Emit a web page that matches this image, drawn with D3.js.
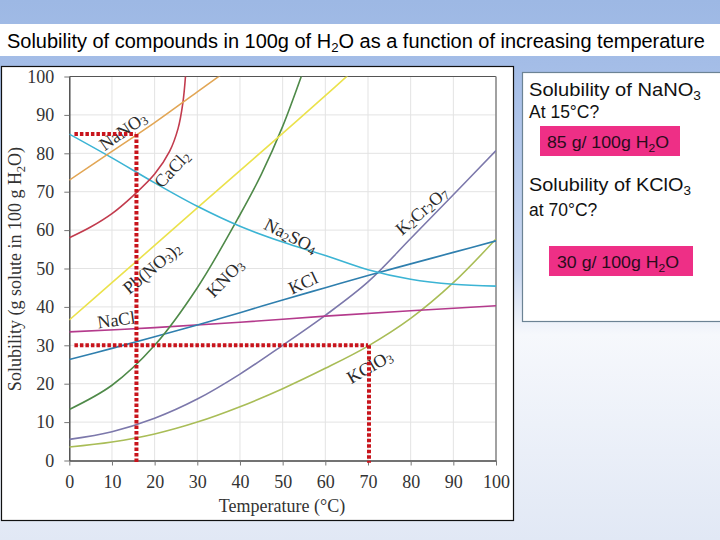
<!DOCTYPE html>
<html>
<head>
<meta charset="utf-8">
<script src="https://cdn.jsdelivr.net/npm/d3@7"></script>
<style>
  html, body { margin: 0; padding: 0; }
  body { width: 720px; height: 540px; overflow: hidden; }
</style>
</head>
<body>
<svg id="chart" width="720" height="540"></svg>
<script>
// ---------- data (temperature °C, solubility g / 100 g H2O) ----------
const NaNO3   = [[0,73],[10,80.5],[20,88],[30,96],[40,104]];
const CaCl2   = [[0,58],[5,60.8],[10,64.3],[15,69],[20,74.6],[23.5,80.5],[25.5,86.5],[26.6,93],[27.3,101]];
const Na2SO4  = [[0,85],[10,78.8],[20,72.3],[30,66.2],[40,61],[50,56.9],[60,53.4],[70,49.7],[80,47.2],[90,45.9],[100,45.4]];
const PbNO32  = [[0,36.6],[10,46.3],[20,56],[30,65.8],[40,75.5],[50,85.2],[60,95],[66,101]];
const KNO3    = [[0,13.3],[10,19.6],[20,30],[30,45],[40,64],[45,74.5],[50,87],[55,102]];
const KCl     = [[0,26.3],[10,29.2],[20,32.2],[30,35.3],[40,38.5],[50,41.8],[60,45],[70,48.2],[80,51.2],[90,54.2],[100,57.2]];
const NaCl    = [[0,33.5],[20,34.6],[40,36],[60,37.6],[80,39],[100,40.3]];
const K2Cr2O7 = [[0,5.5],[10,7.5],[20,11],[30,16],[40,22.5],[50,30],[60,37.8],[70,46.5],[80,57.8],[90,69.2],[100,80.7]];
const KClO3   = [[0,3.5],[10,4.8],[20,6.9],[30,10],[40,14],[50,18.7],[60,24],[70,29.8],[80,37],[90,46.3],[100,57.7]];

const xTicks = [0,10,20,30,40,50,60,70,80,90,100];
const yTicks = [0,10,20,30,40,50,60,70,80,90,100];

// curve labels: text parts ([text, isSubscript]), position in data units, rotation
const labelParts = {
  NaNO3:   [["NaNO",0],["3",1]],
  CaCl2:   [["CaCl",0],["2",1]],
  Na2SO4:  [["Na",0],["2",1],["SO",0],["4",1]],
  K2Cr2O7: [["K",0],["2",1],["Cr",0],["2",1],["O",0],["7",1]],
  PbNO32:  [["Pb(NO",0],["3",1],[")",0],["2",1]],
  KNO3:    [["KNO",0],["3",1]],
  KCl:     [["KCl",0]],
  NaCl:    [["NaCl",0]],
  KClO3:   [["KClO",0],["3",1]]
};
const labelT   = {NaNO3:12.6, CaCl2:24.1, Na2SO4:51.9, K2Cr2O7:82.6, PbNO32:19.4, KNO3:36.5, KCl:54.8, NaCl:11, KClO3:70.4};
const labelS   = {NaNO3:85.8, CaCl2:75.9, Na2SO4:58.5, K2Cr2O7:65,   PbNO32:50.1, KNO3:47.5, KCl:46.2, NaCl:36.6, KClO3:24.4};
const labelRot = {NaNO3:-35, CaCl2:-47, Na2SO4:27, K2Cr2O7:-41, PbNO32:-40, KNO3:-46, KCl:-25, NaCl:-8, KClO3:-30};

// questions
const questionT = [15.5, 70];
const questionS = [85, 30];

// ---------- styling ----------
const colors = {
  NaNO3:"#e2a655", CaCl2:"#c23c4e", Na2SO4:"#3cb4d4", PbNO32:"#ebe24c",
  KNO3:"#4f8a49", KCl:"#2f7fae", NaCl:"#b43a8c", K2Cr2O7:"#7c78ab", KClO3:"#a9bd57"
};
const seriesData = {NaNO3, CaCl2, Na2SO4, PbNO32, KNO3, KCl, NaCl, K2Cr2O7, KClO3};
const order = ["KClO3","K2Cr2O7","NaCl","KCl","KNO3","PbNO32","Na2SO4","CaCl2","NaNO3"];

const svg = d3.select("#chart");
const defs = svg.append("defs");

// slide background
const bg = defs.append("linearGradient").attr("id","bg").attr("x1",0).attr("y1",0).attr("x2",0).attr("y2",1);
[[0,"#9db8e4"],[0.12,"#a4bde7"],[0.5,"#cbd9f1"],[0.62,"#f6f8fc"],[1,"#e1e8f5"]].forEach(s =>
  bg.append("stop").attr("offset",s[0]).attr("stop-color",s[1]));
svg.append("rect").attr("width",720).attr("height",540).attr("fill","url(#bg)");

// title band
svg.append("rect").attr("x",0).attr("y",24).attr("width",720).attr("height",32).attr("fill","#ffffff");
const title = svg.append("text").attr("x",7).attr("y",48)
  .attr("font-family","'Liberation Sans', Arial, sans-serif").attr("font-size",18).attr("fill","#000");
title.append("tspan").text("Solubility of compounds in 100g of H");
title.append("tspan").text("2").attr("font-size",12).attr("dy",4);
title.append("tspan").text("O as a function of increasing temperature").attr("dy",-4);
(function(){ const w = title.node().getComputedTextLength(); const fs = 18*698/w;
  title.attr("font-size",fs); title.selectAll("tspan").filter((d,i)=>i===1).attr("font-size",fs*0.66); })();

// chart panel
svg.append("rect").attr("x",1.5).attr("y",66.5).attr("width",512).attr("height",454)
  .attr("fill","#fff").attr("stroke","#111").attr("stroke-width",1.2);

const x = d3.scaleLinear().domain([0,100]).range([69.3,496]);
const y = d3.scaleLinear().domain([0,100]).range([460.5,76.5]);

// grid
const g = svg.append("g");
g.selectAll("line.vg").data(xTicks.slice(1,-1)).join("line").attr("class","vg")
  .attr("x1",d=>x(d)).attr("x2",d=>x(d)).attr("y1",y(0)).attr("y2",y(100))
  .attr("stroke","#e3e3e3").attr("stroke-width",1);
g.selectAll("line.hg").data(yTicks.slice(1,-1)).join("line").attr("class","hg")
  .attr("x1",x(0)).attr("x2",x(100)).attr("y1",d=>y(d)).attr("y2",d=>y(d))
  .attr("stroke","#e3e3e3").attr("stroke-width",1);

// top & right frame
g.append("line").attr("x1",x(0)).attr("x2",x(100)).attr("y1",y(100)).attr("y2",y(100)).attr("stroke","#555").attr("stroke-width",1.2);
g.append("line").attr("x1",x(100)).attr("x2",x(100)).attr("y1",y(100)).attr("y2",y(0)).attr("stroke","#8a8a8a").attr("stroke-width",1.6);

// axes
const serif = "'Liberation Serif', 'Times New Roman', serif";
const FS = 18;
const yAxis = svg.append("g").attr("transform",`translate(${x(0)},0)`)
  .call(d3.axisLeft(y).tickValues(yTicks).tickSize(5).tickPadding(10).tickSizeOuter(0));
const xAxis = svg.append("g").attr("transform",`translate(0,${y(0)})`)
  .call(d3.axisBottom(x).tickValues(xTicks).tickSize(5).tickPadding(10).tickSizeOuter(0));
[yAxis, xAxis].forEach(a => {
  a.select(".domain").attr("stroke","#444").attr("stroke-width",1.4);
  a.selectAll(".tick line").attr("stroke","#777");
  a.selectAll(".tick text").attr("font-family",serif).attr("font-size",FS).attr("fill","#333");
});

// axis titles
const yl = svg.append("text").attr("transform","translate(21,269) rotate(-90)")
  .attr("text-anchor","middle").attr("font-family",serif).attr("font-size",FS).attr("fill","#333");
yl.append("tspan").text("Solubility (g solute in 100 g H");
yl.append("tspan").text("2").attr("font-size",12.5).attr("dy",4);
yl.append("tspan").text("O)").attr("dy",-4);
svg.append("text").attr("x",282).attr("y",512).attr("text-anchor","middle")
  .attr("font-family",serif).attr("font-size",FS).attr("fill","#333").text("Temperature (°C)");

// curves
defs.append("clipPath").attr("id","plotclip").append("rect")
  .attr("x",x(0)).attr("y",y(100)).attr("width",x(100)-x(0)).attr("height",y(0)-y(100));
const line = d3.line().x(d=>x(d[0])).y(d=>y(d[1])).curve(d3.curveCatmullRom.alpha(0.5));
svg.append("g").attr("clip-path","url(#plotclip)")
  .selectAll("path").data(order).join("path")
  .attr("d",k=>line(seriesData[k])).attr("fill","none")
  .attr("stroke",k=>colors[k]).attr("stroke-width",1.6);

// curve labels
const lg = svg.append("g");
order.forEach(k => {
  const t = lg.append("text")
    .attr("transform",`translate(${x(labelT[k])},${y(labelS[k])}) rotate(${labelRot[k]})`)
    .attr("text-anchor","middle").attr("dominant-baseline","central")
    .attr("font-family",serif).attr("font-size",FS).attr("fill","#2b2b2b");
  let sub = 0;
  labelParts[k].forEach(p => {
    const ts = t.append("tspan").text(p[0]);
    if (p[1] && !sub) { ts.attr("font-size",12.5).attr("dy",4); sub = 1; }
    else if (!p[1] && sub) { ts.attr("dy",-4); sub = 0; }
    else if (p[1]) ts.attr("font-size",12.5);
  });
});

// red dotted guide lines
const rg = svg.append("g").attr("stroke","#c8141c").attr("stroke-width",4).attr("stroke-dasharray","3.5,2").attr("fill","none");
questionT.forEach((T,i) => {
  const S = questionS[i];
  rg.append("line").attr("x1",x(1.2)).attr("x2",x(T)).attr("y1",y(S)).attr("y2",y(S));
  rg.append("line").attr("x1",x(T)+1).attr("x2",x(T)+1).attr("y1",y(S)).attr("y2",y(-0.6));
});

// question box
svg.append("rect").attr("x",522.5).attr("y",72.5).attr("width",205).attr("height",249)
  .attr("fill","#fff").attr("stroke","#6c8394").attr("stroke-width",1.2);
const sans = "'Liberation Sans', Arial, sans-serif";
function richText(xp, yp, parts, fs, fill, width) {
  const t = svg.append("text").attr("x",xp).attr("y",yp).attr("font-family",sans).attr("font-size",fs).attr("fill",fill);
  let sub = 0;
  parts.forEach(p => {
    const ts = t.append("tspan").text(p[0]);
    if (p[1]) { ts.attr("font-size",fs*0.68).attr("dy",4); sub = 1; }
    else if (sub) { ts.attr("dy",-4); sub = 0; }
  });
  if (width) t.attr("textLength",width).attr("lengthAdjust","spacingAndGlyphs");
  return t;
}
richText(529, 96, [["Solubility of NaNO",0],["3",1]], 17.5, "#111", 172);
richText(529, 118, [["At 15°C?",0]], 17.5, "#111");
svg.append("rect").attr("x",540).attr("y",126).attr("width",140).attr("height",30).attr("fill","#ee2f86");
richText(547, 148, [["85 g/ 100g H",0],["2",1],["O",0]], 16, "#2a0c1c", 122);
richText(529, 191, [["Solubility of KClO",0],["3",1]], 17.5, "#111", 162);
richText(529, 216, [["at 70°C?",0]], 17.5, "#111");
svg.append("rect").attr("x",549).attr("y",246).attr("width",144).attr("height",30).attr("fill","#ee2f86");
richText(557, 268, [["30 g/ 100g H",0],["2",1],["O",0]], 16, "#2a0c1c", 122);
</script>
</body>
</html>
